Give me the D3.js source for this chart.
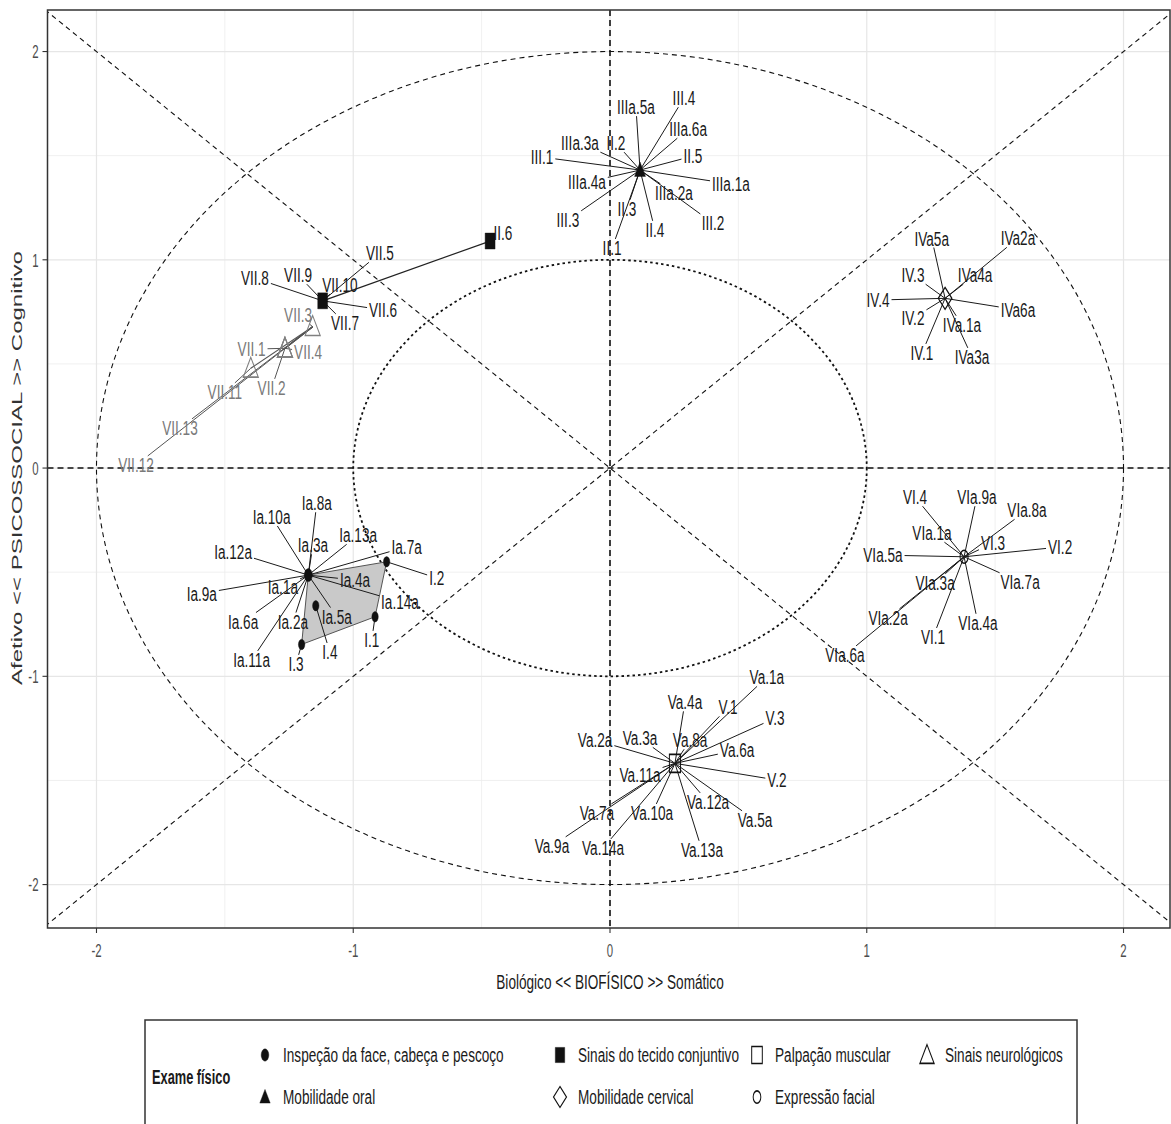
<!DOCTYPE html>
<html>
<head>
<meta charset="utf-8">
<script src="https://cdn.jsdelivr.net/npm/d3@7"></script>
<style>
body { margin: 0; background: #fff; }
svg { display: block; font-family: "Liberation Sans", Arial, sans-serif; }
</style>
</head>
<body>
<svg id="chart" width="1171" height="1124"></svg>
<script>
// Grupos do exame fisico
let groupNames = ['Inspeção da face, cabeça e pescoço', 'Mobilidade oral', 'Sinais do tecido conjuntivo',
                  'Mobilidade cervical', 'Palpação muscular', 'Expressão facial', 'Sinais neurológicos']
let groupShapes = ['circle', 'triangle', 'square', 'diamondOpen', 'squareOpen', 'circleOpen', 'triangleOpen']
let groupColors = ['#111', '#111', '#111', '#111', '#111', '#111', '#808080']
let centerX = [-1.175, 0.117, -1.119, 1.305, 0.253, 1.379, -1.158]
let centerY = [-0.514, 1.431, 0.803, 0.815, -1.418, -0.426, 0.679]

// rotulos ligados ao centro do grupo: [rotulo, x, y]
let labelsI = [['Ia.8a', -1.142, -0.168], ['Ia.10a', -1.318, -0.234], ['Ia.13a', -0.981, -0.322],
  ['Ia.7a', -0.792, -0.378], ['Ia.12a', -1.468, -0.402], ['Ia.3a', -1.157, -0.370], ['Ia.4a', -0.993, -0.538],
  ['Ia.1a', -1.274, -0.570], ['Ia.9a', -1.590, -0.602], ['Ia.14a', -0.818, -0.642], ['Ia.5a', -1.064, -0.714],
  ['Ia.6a', -1.429, -0.738], ['Ia.2a', -1.235, -0.738], ['Ia.11a', -1.396, -0.922]]
let labelsIII = [['IIIa.5a', 0.101, 1.734], ['III.4', 0.288, 1.777], ['IIIa.6a', 0.304, 1.628], ['II.5', 0.323, 1.498],
  ['IIIa.1a', 0.471, 1.364], ['III.2', 0.401, 1.176], ['IIIa.2a', 0.249, 1.321], ['II.4', 0.175, 1.143],
  ['II.3', 0.066, 1.244], ['II.1', 0.008, 1.056], ['III.3', -0.164, 1.191], ['IIIa.4a', -0.090, 1.373],
  ['III.1', -0.265, 1.493], ['IIIa.3a', -0.117, 1.561], ['II.2', 0.023, 1.561]]
let labelsConj = [['VII.5', -0.896, 1.032], ['VII.8', -1.383, 0.912], ['VII.9', -1.215, 0.927],
  ['VII.10', -1.052, 0.879], ['VII.6', -0.884, 0.759], ['VII.7', -1.032, 0.696]]
let labelsIV = [['IVa5a', 1.253, 1.103], ['IVa2a', 1.589, 1.104], ['IVa4a', 1.422, 0.927], ['IV.3', 1.180, 0.927],
  ['IV.4', 1.044, 0.807], ['IVa6a', 1.589, 0.759], ['IV.2', 1.180, 0.720], ['IVa.1a', 1.371, 0.687],
  ['IV.1', 1.215, 0.552], ['IVa3a', 1.410, 0.533]]
let labelsV = [['Va.1a', 0.611, -1.004], ['Va.4a', 0.292, -1.124], ['V.1', 0.460, -1.148], ['V.3', 0.643, -1.201],
  ['Va.2a', -0.058, -1.306], ['Va.3a', 0.117, -1.297], ['Va.8a', 0.312, -1.306], ['Va.6a', 0.495, -1.354],
  ['V.2', 0.650, -1.498], ['Va.11a', 0.117, -1.474], ['Va.12a', 0.382, -1.604], ['Va.5a', 0.565, -1.690],
  ['Va.7a', -0.051, -1.657], ['Va.10a', 0.164, -1.657], ['Va.9a', -0.226, -1.815], ['Va.14a', -0.027, -1.825],
  ['Va.13a', 0.358, -1.834]]
let labelsVI = [['VI.4', 1.188, -0.139], ['VIa.9a', 1.429, -0.139], ['VIa.8a', 1.624, -0.202], ['VIa.1a', 1.254, -0.312],
  ['VI.3', 1.492, -0.360], ['VI.2', 1.753, -0.379], ['VIa.5a', 1.063, -0.418], ['VIa.3a', 1.266, -0.552],
  ['VIa.7a', 1.597, -0.547], ['VIa.2a', 1.083, -0.720], ['VI.1', 1.258, -0.812], ['VIa.4a', 1.433, -0.744],
  ['VIa.6a', 0.915, -0.898]]
let labelsVII = [['VII.3', -1.215, 0.735], ['VII.13', -1.675, 0.192], ['VII.12', -1.846, 0.014]]

// pontos proprios: [grupo, rotulo, x, y, x do rotulo, y do rotulo]
let ownPoints = [
  [0, 'I.2', -0.870, -0.450, -0.675, -0.528],
  [0, 'I.1', -0.915, -0.714, -0.928, -0.826],
  [0, 'I.3', -1.201, -0.847, -1.223, -0.941],
  [0, 'I.4', -1.146, -0.661, -1.091, -0.884],
  [2, 'II.6', -0.467, 1.090, -0.417, 1.128],
  [6, 'VII.1', -1.266, 0.575, -1.396, 0.571],
  [6, 'VII.4', -1.266, 0.575, -1.176, 0.557],
  [6, 'VII.2', -1.266, 0.575, -1.318, 0.384],
  [6, 'VII.11', -1.399, 0.479, -1.500, 0.365]
]
let centerLabels = [labelsI, labelsIII, labelsConj, labelsIV, labelsV, labelsVI, labelsVII]
let starGroups = [2, 6]   // ligam o centro aos pontos proprios
let hullGroups = [0]

let xTicks = [-2, -1, 0, 1, 2]
let yTicks = [-2, -1, 0, 1, 2]
let minorTicks = [-1.5, -0.5, 0.5, 1.5]

// ---- layout ----
let FS = 20, SX = 0.68, MSX = 0.62
let svg = d3.select('#chart')
let x = d3.scaleLinear().domain([-2.19, 2.19]).range([47.7, 1172.3])
let y = d3.scaleLinear().domain([-2.21, 2.2]).range([928.3, 9.9])
let panelL = 47.5, panelR = 1170, panelT = 10, panelB = 928

svg.append('clipPath').attr('id', 'clip').append('rect')
  .attr('x', panelL).attr('y', panelT).attr('width', panelR - panelL).attr('height', panelB - panelT)

let plot = svg.append('g').attr('clip-path', 'url(#clip)')

// grade
plot.selectAll('.vmin').data(minorTicks).enter().append('line')
  .attr('x1', d => x(d)).attr('x2', d => x(d)).attr('y1', panelT).attr('y2', panelB)
  .attr('stroke', '#ececec').attr('stroke-width', 0.8)
plot.selectAll('.hmin').data(minorTicks).enter().append('line')
  .attr('y1', d => y(d)).attr('y2', d => y(d)).attr('x1', panelL).attr('x2', panelR)
  .attr('stroke', '#ececec').attr('stroke-width', 0.8)
plot.selectAll('.vmaj').data(xTicks).enter().append('line')
  .attr('x1', d => x(d)).attr('x2', d => x(d)).attr('y1', panelT).attr('y2', panelB)
  .attr('stroke', '#e6e6e6').attr('stroke-width', 1.2)
plot.selectAll('.hmaj').data(yTicks).enter().append('line')
  .attr('y1', d => y(d)).attr('y2', d => y(d)).attr('x1', panelL).attr('x2', panelR)
  .attr('stroke', '#e6e6e6').attr('stroke-width', 1.2)

// circulos de referencia
plot.append('ellipse').attr('cx', x(0)).attr('cy', y(0))
  .attr('rx', x(2) - x(0)).attr('ry', y(0) - y(2))
  .attr('fill', 'none').attr('stroke', '#111').attr('stroke-width', 1.1).attr('stroke-dasharray', '5,4')
plot.append('ellipse').attr('cx', x(0)).attr('cy', y(0))
  .attr('rx', x(1) - x(0)).attr('ry', y(0) - y(1))
  .attr('fill', 'none').attr('stroke', '#111').attr('stroke-width', 1.8).attr('stroke-dasharray', '2.5,3')

// diagonais
;[1, -1].forEach(s => {
  plot.append('line')
    .attr('x1', x(-2.5)).attr('y1', y(-2.5 * s)).attr('x2', x(2.5)).attr('y2', y(2.5 * s))
    .attr('stroke', '#111').attr('stroke-width', 1.1).attr('stroke-dasharray', '5,4')
})

// eixos em zero
plot.append('line').attr('x1', panelL).attr('x2', panelR).attr('y1', y(0)).attr('y2', y(0))
  .attr('stroke', '#111').attr('stroke-width', 1.6).attr('stroke-dasharray', '6,4')
plot.append('line').attr('y1', panelT).attr('y2', panelB).attr('x1', x(0)).attr('x2', x(0))
  .attr('stroke', '#111').attr('stroke-width', 1.6).attr('stroke-dasharray', '6,4')

// envoltoria
hullGroups.forEach(g => {
  let pts = [[x(centerX[g]), y(centerY[g])]]
  ownPoints.filter(p => p[0] === g).forEach(p => pts.push([x(p[2]), y(p[3])]))
  let hull = d3.polygonHull(pts)
  plot.append('path').attr('d', 'M' + hull.join('L') + 'Z')
    .attr('fill', '#c9c9c9').attr('stroke', '#555').attr('stroke-width', 1)
})

let segLayer = plot.append('g')
let markLayer = plot.append('g')
let textLayer = plot.append('g')

// linhas centro -> ponto proprio
starGroups.forEach(g => {
  ownPoints.filter(p => p[0] === g).forEach(p => {
    segLayer.append('line')
      .attr('x1', x(centerX[g])).attr('y1', y(centerY[g])).attr('x2', x(p[2])).attr('y2', y(p[3]))
      .attr('stroke', g === 6 ? '#555' : '#222').attr('stroke-width', 1.2)
  })
})

function shapePath(type, k) {
  let p = d3.path()
  let t = type.replace('Open', '')
  if (t === 'circle') { p.arc(0, 0, 6.5 * k, 0, 2 * Math.PI) }
  else if (t === 'square') { let h = (type === 'square' ? 8 : 9) * k; p.rect(-h, -h, 2 * h, 2 * h) }
  else if (t === 'triangle') {
    let h = (type === 'triangle' ? 8 : 11) * k
    p.moveTo(0, -h); p.lineTo(h * 1.1, h * 0.8); p.lineTo(-h * 1.1, h * 0.8); p.closePath()
  }
  else if (t === 'diamond') { let h = 11 * k; p.moveTo(0, -h); p.lineTo(h, 0); p.lineTo(0, h); p.lineTo(-h, 0); p.closePath() }
  return p.toString()
}

function drawMark(layer, g, px, py, k) {
  let open = groupShapes[g].includes('Open')
  layer.append('path')
    .attr('d', shapePath(groupShapes[g], k))
    .attr('transform', `translate(${px},${py}) scale(${MSX},1)`)
    .attr('fill', open ? 'none' : groupColors[g])
    .attr('stroke', groupColors[g])
    .attr('stroke-width', open ? 1.6 : 0.5)
}

function drawLabel(g, text, px, py, lx, ly) {
  let t = textLayer.append('text')
    .attr('transform', `translate(${lx},${ly}) scale(${SX},1)`)
    .attr('text-anchor', 'middle').attr('dy', '0.36em')
    .style('font-size', FS + 'px').attr('fill', g === 6 ? '#7a7a7a' : '#1a1a1a')
    .text(text)
  let hw = t.node().getComputedTextLength() * SX / 2 + 2
  let hh = FS * 0.36 + 2
  let dx = px - lx, dy = py - ly
  if (Math.abs(dx) <= hw && Math.abs(dy) <= hh) return
  let s = Math.min(dx === 0 ? Infinity : hw / Math.abs(dx), dy === 0 ? Infinity : hh / Math.abs(dy))
  let ex = lx + dx * s, ey = ly + dy * s
  if (Math.hypot(px - ex, py - ey) < 3) return
  segLayer.append('line').attr('x1', px).attr('y1', py).attr('x2', ex).attr('y2', ey)
    .attr('stroke', g === 6 ? '#555' : '#1a1a1a').attr('stroke-width', 1)
}

centerLabels.forEach((list, g) => {
  let cx = x(centerX[g]), cy = y(centerY[g])
  list.forEach(d => drawLabel(g, d[0], cx, cy, x(d[1]), y(d[2])))
  drawMark(markLayer, g, cx, cy, 1)
})
ownPoints.forEach(p => {
  drawLabel(p[0], p[1], x(p[2]), y(p[3]), x(p[4]), y(p[5]))
  drawMark(markLayer, p[0], x(p[2]), y(p[3]), p[0] === 0 ? 0.8 : 1)
})

// borda do painel
svg.append('rect').attr('x', panelL).attr('y', panelT).attr('width', panelR - panelL).attr('height', panelB - panelT)
  .attr('fill', 'none').attr('stroke', '#333').attr('stroke-width', 1.5)

// eixos
let axisG = svg.append('g')
xTicks.forEach(v => {
  axisG.append('line').attr('x1', x(v)).attr('x2', x(v)).attr('y1', panelB).attr('y2', panelB + 5)
    .attr('stroke', '#333').attr('stroke-width', 1.1)
  axisG.append('text').attr('transform', `translate(${x(v)},${panelB + 22}) scale(0.6,1)`)
    .attr('text-anchor', 'middle').attr('dy', '0.36em').style('font-size', '19px').attr('fill', '#4d4d4d')
    .text(v < 0 ? '-' + Math.abs(v) : v)
})
yTicks.forEach(v => {
  axisG.append('line').attr('x1', panelL - 5).attr('x2', panelL).attr('y1', y(v)).attr('y2', y(v))
    .attr('stroke', '#333').attr('stroke-width', 1.1)
  axisG.append('text').attr('transform', `translate(${panelL - 9},${y(v)}) scale(0.6,1)`)
    .attr('text-anchor', 'end').attr('dy', '0.36em').style('font-size', '19px').attr('fill', '#4d4d4d')
    .text(v < 0 ? '-' + Math.abs(v) : v)
})
axisG.append('text').attr('transform', `translate(${x(0)},982) scale(${SX},1)`)
  .attr('text-anchor', 'middle').attr('dy', '0.36em').style('font-size', FS + 'px').attr('fill', '#1a1a1a')
  .text('Biológico << BIOFÍSICO >> Somático')
axisG.append('text').attr('transform', `translate(17,${y(0)}) rotate(-90) scale(1,0.6)`)
  .attr('text-anchor', 'middle').attr('dy', '0.36em').style('font-size', '24px').attr('fill', '#333')
  .text('Afetivo << PSICOSSOCIAL >> Cognitivo')

// legenda
let leg = svg.append('g')
leg.append('rect').attr('x', 145).attr('y', 1020).attr('width', 932).attr('height', 112)
  .attr('fill', '#fff').attr('stroke', '#333').attr('stroke-width', 1.5)
leg.append('text').attr('transform', `translate(152,1077) scale(0.64,1)`)
  .attr('dy', '0.36em').style('font-size', FS + 'px').style('font-weight', 'bold').attr('fill', '#1a1a1a')
  .text('Exame físico')
let legendOrder = [0, 2, 4, 6, 1, 3, 5]
let colX = [265, 560, 757, 927]
let rowY = [1055, 1097]
legendOrder.forEach((g, i) => {
  let col = i < 4 ? i : i - 4
  let row = i < 4 ? 0 : 1
  let lx = colX[col], ly = rowY[row]
  drawMark(leg, g, lx, ly, 0.95)
  leg.append('text').attr('transform', `translate(${lx + 18},${ly}) scale(${SX},1)`)
    .attr('dy', '0.36em').style('font-size', FS + 'px').attr('fill', '#1a1a1a')
    .text(groupNames[g])
})
leg.selectAll('path').attr('fill', function () { return d3.select(this).attr('fill') === 'none' ? 'none' : '#111' })
  .attr('stroke', '#111')
</script>
</body>
</html>
